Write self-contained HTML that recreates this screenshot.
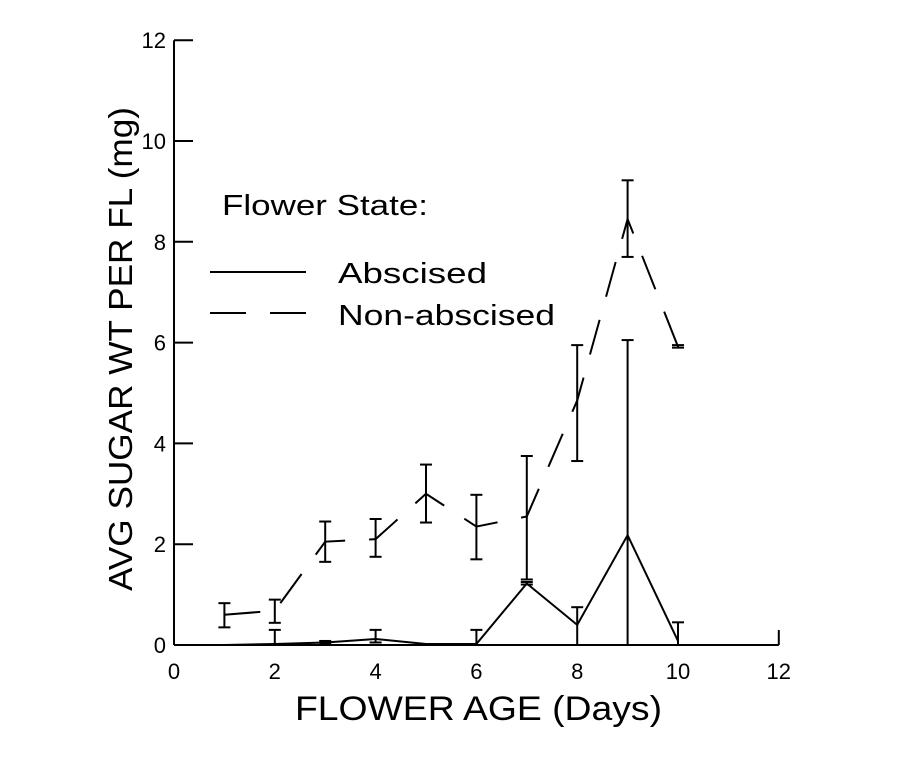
<!DOCTYPE html>
<html><head><meta charset="utf-8"><style>
body{margin:0;background:#fff}
svg{display:block;font-family:"Liberation Sans",Arial,sans-serif}
</style></head><body>
<svg id="chart" width="908" height="757" viewBox="0 0 908 757">
<g id="axes"></g>
<g id="marks"></g>
<text x="295" y="720" font-size="34" textLength="367" lengthAdjust="spacingAndGlyphs">FLOWER AGE (Days)</text>
<text transform="translate(132,591) rotate(-90)" font-size="33" textLength="484" lengthAdjust="spacingAndGlyphs">AVG SUGAR WT PER FL (mg)</text>
<g>
<text x="222" y="215" font-size="29" textLength="206" lengthAdjust="spacingAndGlyphs">Flower State:</text>
<line x1="210" y1="272" x2="306" y2="272" stroke="#000" stroke-width="2"/>
<text x="338" y="283" font-size="29" textLength="149" lengthAdjust="spacingAndGlyphs">Abscised</text>
<line x1="210" y1="313" x2="306" y2="313" stroke="#000" stroke-width="2" stroke-dasharray="36,24"/>
<text x="338" y="325" font-size="29" textLength="217" lengthAdjust="spacingAndGlyphs">Non-abscised</text>
</g>
</svg>
<script>
const days=[1,2,3,4,5,6,7,8,9,10];
const nonAbs=[0.6,0.68,2.05,2.1,3.0,2.35,2.55,4.85,8.45,5.92];
const nonAbsHi=[0.83,0.9,2.45,2.5,3.58,2.98,3.75,5.95,9.22,5.95];
const nonAbsLo=[0.35,0.44,1.65,1.75,2.43,1.7,1.3,3.65,7.7,5.9];
const abs=[0,0.02,0.05,0.12,0.02,0.02,1.22,0.4,2.18,0.08];
const absHi=[0,0.3,0.08,0.3,0.03,0.3,1.25,0.75,6.05,0.45];
const absLo=[0,0,0.02,0.05,0.01,0,1.2,0,0,0];
const xTicks=[0,2,4,6,8,10,12];
const yTicks=[0,2,4,6,8,10,12];
const NS="http://www.w3.org/2000/svg";
const X=v=>174+v*50.4, Y=v=>645-v*50.4;
function mk(tag,attrs,parent){const e=document.createElementNS(NS,tag);for(const k in attrs)e.setAttribute(k,attrs[k]);parent.appendChild(e);return e;}
const ax=document.getElementById('axes'), mg=document.getElementById('marks');
let e=mk('line',{x1:X(0),y1:Y(12),x2:X(0),y2:Y(0),stroke:'#000','stroke-width':2},ax);


e=mk('line',{x1:X(0),y1:Y(0),x2:X(12),y2:Y(0),stroke:'#000','stroke-width':2},ax);


e=mk('line',{x1:X(12),y1:Y(0),x2:X(12),y2:Y(0)-15,stroke:'#000','stroke-width':2},ax);


yTicks.forEach(t=>{
 let l=mk('line',{x1:X(0),y1:Y(t),x2:X(0)+19,y2:Y(t),stroke:'#000','stroke-width':2},ax);
 
 
 let tx=mk('text',{x:166,y:Y(t)+8,'font-size':22,'text-anchor':'end'},ax);tx.textContent=t;
 
 
});
xTicks.forEach(t=>{
 let tx=mk('text',{x:X(t),y:679,'font-size':22,'text-anchor':'middle'},ax);tx.textContent=t;
 
 
});
function series(vals,hi,lo,dash,name){
 const pts=days.map((d,i)=>X(d)+','+Y(vals[i])).join(' ');
 const attrs={points:pts,fill:'none',stroke:'#000','stroke-width':2};
 if(dash)attrs['stroke-dasharray']=dash;
 let p=mk('polyline',attrs,mg);
 
 
 days.forEach((d,i)=>{
  if(hi[i]-lo[i]<0.02)return;
  const g=mk('g',{stroke:'#000','stroke-width':2},mg);
  
  
  mk('line',{x1:X(d),y1:Y(hi[i]),x2:X(d),y2:Y(lo[i])},g);
  mk('line',{x1:X(d)-6,y1:Y(hi[i]),x2:X(d)+6,y2:Y(hi[i])},g);
  if(lo[i]>0.01)mk('line',{x1:X(d)-6,y1:Y(lo[i]),x2:X(d)+6,y2:Y(lo[i])},g);
 });
}
series(nonAbs,nonAbsHi,nonAbsLo,'36,24','nonabscised');
series(abs,absHi,absLo,null,'abscised');
</script>
</body></html>
